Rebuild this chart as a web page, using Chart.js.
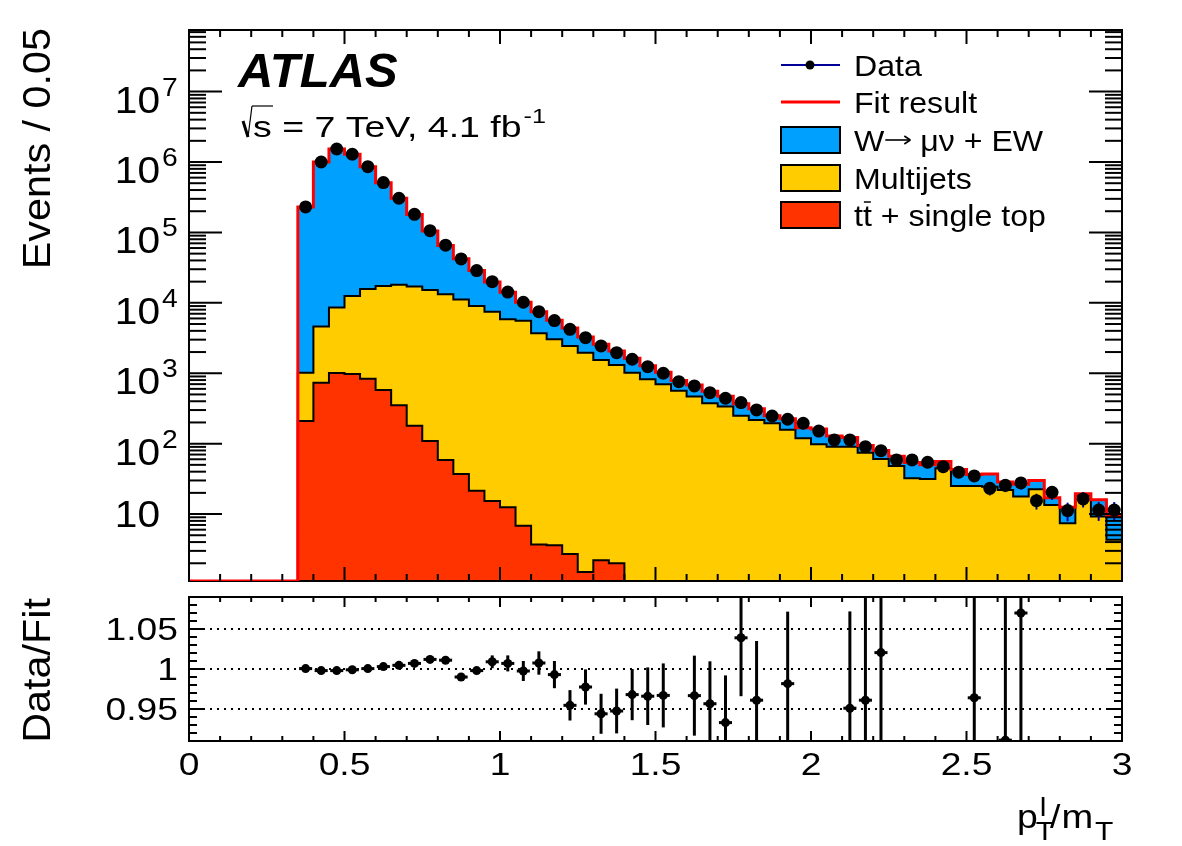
<!DOCTYPE html>
<html>
<head>
<meta charset="utf-8">
<title>pT/mT template fit</title>
<script src="https://cdn.jsdelivr.net/npm/chart.js@4.4.1/dist/chart.umd.min.js"></script>
<style>
  html, body { margin: 0; padding: 0; background: #fff; }
  #wrap { position: relative; width: 1182px; height: 846px; }
  #wrap canvas { position: absolute; left: 0; top: 0; }
</style>
</head>
<body>
<div id="wrap">
  <canvas id="mainChart" width="1182" height="846"></canvas>
  <canvas id="ratioChart" width="1182" height="846"></canvas>
</div>
<script>
// p_T^l / m_T, 60 bins of 0.05 from 0 to 3 (bins 0-6 are empty)
const binWidth = 0.05;
const nBins = 60;

// stack components, events per bin
const wMuNu = [0, 0, 0, 0, 0, 0, 0,
  229000, 995000, 1521000, 1277500, 844000, 490600, 287000, 163000, 89800, 51800,
  31200, 19800, 12300, 8250, 4620, 3740, 2600, 1960, 1310, 1035,
  757, 610, 458, 332, 224, 217, 179, 137, 119, 96,
  55, 69, 49, 64, 37.5, 31.5, 19.8, 19.5, 17.8, 21.8,
  18.4, 11.3, 18, 11.5, 12.5, 6.5, 8.8, 7.4, 3.5, 5.1,
  1.3, 6.8, 5.2];
const multijets = [0, 0, 0, 0, 0, 0, 0,
  810, 3860, 7540, 11500, 14860, 16820, 17650, 16820, 15090, 13140,
  11160, 8980, 7485, 5840, 5570, 3700, 3036, 2437, 1958, 1543,
  1311, 1020, 822, 698, 566, 466, 375, 336, 250, 217,
  195, 157, 119, 98, 90.5, 90.5, 74.5, 60.5, 48.2, 32.2,
  31.6, 44.7, 25, 25, 24.5, 22, 17.7, 22.6, 13.5, 7.4,
  18.2, 9.2, 4.3];
const topQuarks = [0, 0, 0, 0, 0, 0, 0,
  210, 735, 1010, 977, 838, 579, 351, 180, 109, 58.7,
  37, 21.5, 15.3, 12.5, 6.8, 3.7, 3.6, 2.7, 1.5, 2.2,
  2.0, 0, 0, 0, 0, 0, 0, 0, 0, 0,
  0, 0, 0, 0, 0, 0, 0, 0, 0, 0,
  0, 0, 0, 0, 0, 0, 0, 0, 0, 0,
  0, 0, 0];

const data = [null, null, null, null, null, null, null,
  230000, 1000000, 1530000, 1290000, 860000, 510000, 306000, 181000, 106000, 66000,
  42000, 28700, 20000, 14200, 10200, 7500, 5600, 4200, 3200, 2440,
  1960, 1580, 1240, 1000, 760, 660, 530, 441, 383, 301,
  247, 222, 195, 151, 113, 113, 90.6, 79.6, 58.7, 58.7,
  54.4, 47.1, 39.3, 34.8, 23.2, 25.6, 27.7, 15.5, 20.4, 11.2,
  16.4, 11.4, 11.4];
const dataErr = [0, 0, 0, 0, 0, 0, 0,
  0, 0, 0, 0, 0, 0, 0, 0, 0, 0,
  0, 0, 0, 0, 0, 0, 0, 0, 0, 0,
  0, 0, 0, 0, 0, 0, 0, 0, 0, 0,
  0, 14.9, 14, 12.3, 10.6, 10.6, 9.5, 8.9, 7.7, 7.7,
  7.4, 6.9, 6.3, 5.9, 4.8, 5.1, 5.3, 3.9, 4.5, 3.3,
  4.0, 3.4, 3.4];

// Data/Fit, null where no point is shown
const ratio = [null, null, null, null, null, null, null,
  1.0005, 0.998, 0.998, 0.999, 1.0005, 1.003, 1.0046, 1.007, 1.012, 1.011,
  0.990, 0.998, 1.009, 1.007, 0.9975, 1.0075, 0.993, 0.9546, 0.9775, 0.944,
  0.9475, 0.968, 0.966, 0.967, null, 0.9667, 0.9566, 0.933, 1.039, 0.961,
  null, 0.9817, null, null, null, 0.951, 0.961, 1.0205, null, null,
  null, null, null, 0.964, null, 0.911, 1.07, null, null, null,
  null, null, null];
const ratioErr = [0, 0, 0, 0, 0, 0, 0,
  0.0015, 0.0015, 0.0015, 0.0015, 0.0015, 0.0015, 0.0015, 0.002, 0.002, 0.002,
  0.003, 0.004, 0.008, 0.010, 0.0125, 0.0146, 0.017, 0.019, 0.022, 0.025,
  0.028, 0.032, 0.036, 0.040, 0, 0.050, 0.053, 0.059, 0.073, 0.074,
  0, 0.090, 0, 0, 0, 0.121, 0.135, 0.145, 0, 0,
  0, 0, 0, 0.20, 0, 0.25, 0.30, 0, 0, 0,
  0, 0, 0];

const mainTickLabels = [10, 1e2, 1e3, 1e4, 1e5, 1e6, 1e7];
const ratioTickLabels = ['0.95', '1', '1.05'];
const xTickLabels = ['0', '0.5', '1', '1.5', '2', '2.5', '3'];

const yMin = 1.12, yMax = 7.5e7;
const rMin = 0.91, rMax = 1.09;

const colW = '#00a0ff';
const colMJ = '#ffcc00';
const colTop = '#ff3300';
const colFit = '#ff0000';
const colDataLine = '#000099';
const FONT = '"Liberation Sans", Arial, Helvetica, sans-serif';

// cumulative stack tops
const stackMJ = multijets.map((v, i) => v + topQuarks[i]);
const stackAll = wMuNu.map((v, i) => v + stackMJ[i]);

// histogram outline: one point at each bin's left edge, plus the last right edge
function stepPoints(vals) {
  const pts = vals.map((v, i) => ({ x: i * binWidth, y: v > 0 ? v : yMin }));
  pts.push({ x: nBins * binWidth, y: pts[pts.length - 1].y });
  return pts;
}

function centrePoints(vals) {
  const pts = [];
  vals.forEach((v, i) => { if (v != null) pts.push({ x: (i + 0.5) * binWidth, y: v }); });
  return pts;
}

function drawText(ctx, str, x, y, opt) {
  const sx = opt.sx || 1;
  ctx.save();
  ctx.font = (opt.font || '') + ' ' + opt.size + 'px ' + FONT;
  ctx.fillStyle = '#000';
  ctx.textAlign = 'left';
  ctx.textBaseline = 'alphabetic';
  const w = ctx.measureText(str).width * sx;
  let x0 = x;
  if (opt.align === 'right') x0 -= w;
  else if (opt.align === 'center') x0 -= w / 2;
  ctx.translate(x0, y);
  ctx.scale(sx, 1);
  ctx.fillText(str, 0, 0);
  ctx.restore();
  return w;
}

// vertical axis title, read bottom to top, ending at yTop
function drawVertical(ctx, str, xBase, yTop, size, sx) {
  ctx.save();
  ctx.font = size + 'px ' + FONT;
  ctx.fillStyle = '#000';
  ctx.textBaseline = 'alphabetic';
  const w = ctx.measureText(str).width * sx;
  ctx.translate(xBase, yTop + w);
  ctx.rotate(-Math.PI / 2);
  ctx.scale(sx, 1);
  ctx.fillText(str, 0, 0);
  ctx.restore();
}

function line(ctx, x1, y1, x2, y2) {
  ctx.beginPath();
  ctx.moveTo(x1, y1);
  ctx.lineTo(x2, y2);
  ctx.stroke();
}

function drawXTicks(ctx, area, xs, major, minor) {
  for (let k = 0; k <= 30; k++) {
    const px = xs.getPixelForValue(k / 10);
    const len = k % 5 === 0 ? major : minor;
    line(ctx, px, area.bottom, px, area.bottom - len);
    line(ctx, px, area.top, px, area.top + len);
  }
}

// ---------- upper panel ----------
const mainDecor = {
  id: 'mainDecor',
  beforeDatasetDraw(chart, args) {
    const { ctx, chartArea: a, scales: { x, y } } = chart;
    if (args.index === 1) {
      // frame goes under the fit line, like the original
      ctx.save();
      ctx.strokeStyle = '#000';
      ctx.lineWidth = 2;
      ctx.strokeRect(a.left, a.top, a.right - a.left, a.bottom - a.top);
      ctx.restore();
    }
    if (args.index !== 0) return;
    ctx.save();
    ctx.beginPath();
    ctx.rect(a.left, a.top, a.right - a.left, a.bottom - a.top);
    ctx.clip();
    ctx.strokeStyle = colDataLine;
    ctx.lineWidth = 2;
    data.forEach((v, i) => {
      if (v == null || !dataErr[i]) return;
      const px = x.getPixelForValue((i + 0.5) * binWidth);
      line(ctx, px, y.getPixelForValue(v + dataErr[i]), px, y.getPixelForValue(v - dataErr[i]));
    });
    ctx.restore();
  },
  afterDraw(chart) {
    const { ctx, chartArea: a, scales: { x, y } } = chart;
    ctx.save();
    ctx.strokeStyle = '#000';
    ctx.lineWidth = 2;
    drawXTicks(ctx, a, x, 14, 7);
    for (let e = 0; e <= 7; e++) {
      for (let m = 1; m <= 9; m++) {
        const v = m * Math.pow(10, e);
        if (v < yMin || v > yMax) continue;
        const py = y.getPixelForValue(v);
        const len = m === 1 ? 33 : 17;
        line(ctx, a.left, py, a.left + len, py);
        line(ctx, a.right, py, a.right - len, py);
      }
    }
    line(ctx, a.left, a.top, a.right, a.top);
    line(ctx, a.right, a.top, a.right, a.bottom);

    // y tick labels 10^n
    mainTickLabels.forEach(v => {
      const py = y.getPixelForValue(v);
      const ex = Math.round(Math.log10(v));
      if (ex === 1) {
        drawText(ctx, '10', 160, py + 13, { size: 36, sx: 1.13, align: 'right' });
      } else {
        drawText(ctx, '10', 160, py + 21, { size: 36, sx: 1.13, align: 'right' });
        drawText(ctx, String(ex), 162, py + 4, { size: 25, sx: 1.13 });
      }
    });

    drawVertical(ctx, 'Events / 0.05', 50, 28, 39, 1.06);

    // ATLAS label
    drawText(ctx, 'ATLAS', 238, 87, { size: 49, font: 'italic bold' });
    ctx.lineWidth = 3;
    line(ctx, 243, 121, 248, 137);
    ctx.lineWidth = 1.2;
    line(ctx, 248, 137, 252, 106);
    line(ctx, 252, 106, 273, 106);
    const w1 = drawText(ctx, 's = 7 TeV, 4.1 fb', 253, 137, { size: 30, sx: 1.25 });
    drawText(ctx, '-1', 255 + w1, 123, { size: 21, sx: 1.2 });

    // legend
    const lx1 = 781, lx2 = 840, tx = 854;
    const rows = [65, 102, 140, 178, 215];
    ctx.strokeStyle = colDataLine;
    ctx.lineWidth = 2;
    line(ctx, lx1, rows[0], lx2, rows[0]);
    ctx.fillStyle = '#000';
    ctx.beginPath();
    ctx.arc(810, rows[0], 4.5, 0, Math.PI * 2);
    ctx.fill();
    ctx.strokeStyle = colFit;
    ctx.lineWidth = 3;
    line(ctx, lx1, rows[1], lx2, rows[1]);
    [[colW, rows[2]], [colMJ, rows[3]], [colTop, rows[4]]].forEach(([c, ry]) => {
      ctx.fillStyle = c;
      ctx.fillRect(lx1, ry - 13, lx2 - lx1, 26);
      ctx.strokeStyle = '#000';
      ctx.lineWidth = 2;
      ctx.strokeRect(lx1, ry - 13, lx2 - lx1, 26);
    });
    const lo = { size: 30, sx: 1.07 };
    drawText(ctx, 'Data', tx, rows[0] + 11, lo);
    drawText(ctx, 'Fit result', tx, rows[1] + 11, lo);

    // W -> mu nu + EW, with a long drawn arrow
    const ww = drawText(ctx, 'W', tx, rows[2] + 11, lo);
    const ax1 = tx + ww + 1, ax2 = tx + ww + 26;
    ctx.strokeStyle = '#000';
    ctx.lineWidth = 1.6;
    line(ctx, ax1, rows[2], ax2, rows[2]);
    line(ctx, ax2 - 6, rows[2] - 4, ax2, rows[2]);
    line(ctx, ax2 - 6, rows[2] + 4, ax2, rows[2]);
    drawText(ctx, '\u03bc\u03bd + EW', ax2 + 10, rows[2] + 11, lo);

    drawText(ctx, 'Multijets', tx, rows[3] + 11, lo);
    const tw = drawText(ctx, 't', tx, rows[4] + 11, lo);
    const tw2 = drawText(ctx, 't', tx + tw, rows[4] + 11, lo);
    ctx.lineWidth = 1.5;
    line(ctx, tx + tw + 1, rows[4] - 13, tx + tw + tw2 - 1, rows[4] - 13);
    drawText(ctx, ' + single top', tx + tw + tw2, rows[4] + 11, lo);
    ctx.restore();
  }
};

const histStyle = { stepped: true, pointRadius: 0, borderWidth: 2, borderColor: '#000', fill: 'start' };

new Chart(document.getElementById('mainChart'), {
  type: 'line',
  data: {
    datasets: [
      { label: 'Data', data: centrePoints(data), showLine: false, pointRadius: 6.5,
        pointBackgroundColor: '#000', pointBorderWidth: 0 },
      { label: 'Fit result', data: stepPoints(stackAll), stepped: true, pointRadius: 0,
        borderColor: colFit, borderWidth: 3, fill: false },
      { ...histStyle, label: 't tbar + single top', data: stepPoints(topQuarks), backgroundColor: colTop },
      { ...histStyle, label: 'Multijets', data: stepPoints(stackMJ), backgroundColor: colMJ },
      { ...histStyle, label: 'W -> mu nu + EW', data: stepPoints(stackAll), backgroundColor: colW,
        borderColor: 'rgba(0,0,0,0)', borderWidth: 0 }
    ]
  },
  options: {
    responsive: false,
    animation: false,
    events: [],
    layout: { padding: { left: 189, right: 60, top: 30, bottom: 265 } },
    scales: {
      x: { type: 'linear', min: 0, max: 3, display: false },
      y: { type: 'logarithmic', min: yMin, max: yMax, display: false }
    },
    plugins: { legend: { display: false }, tooltip: { enabled: false } }
  },
  plugins: [mainDecor]
});

// ---------- ratio panel ----------
const ratioDecor = {
  id: 'ratioDecor',
  beforeDatasetsDraw(chart) {
    const { ctx, chartArea: a, scales: { x, y } } = chart;
    ctx.save();
    ctx.strokeStyle = '#000';
    ctx.lineWidth = 2;
    ctx.setLineDash([2, 5]);
    [0.95, 1, 1.05].forEach(v => {
      const py = y.getPixelForValue(v);
      line(ctx, a.left, py, a.right, py);
    });
    ctx.setLineDash([]);
    ctx.beginPath();
    ctx.rect(a.left, a.top, a.right - a.left, a.bottom - a.top);
    ctx.clip();
    ctx.lineWidth = 3;
    ratio.forEach((r, i) => {
      if (r == null) return;
      const c = (i + 0.5) * binWidth;
      const px = x.getPixelForValue(c);
      const py = y.getPixelForValue(r);
      line(ctx, px, y.getPixelForValue(r + ratioErr[i]), px, y.getPixelForValue(r - ratioErr[i]));
      line(ctx, x.getPixelForValue(c - 0.021), py, x.getPixelForValue(c + 0.021), py);
    });
    ctx.restore();
  },
  afterDraw(chart) {
    const { ctx, chartArea: a, scales: { x, y } } = chart;
    ctx.save();
    ctx.strokeStyle = '#000';
    ctx.lineWidth = 2;
    drawXTicks(ctx, a, x, 10, 5);
    for (let k = 91; k <= 109; k++) {
      const py = y.getPixelForValue(k / 100);
      const len = k % 5 === 0 ? 16 : 8;
      line(ctx, a.left, py, a.left + len, py);
      line(ctx, a.right, py, a.right - len, py);
    }
    ctx.strokeRect(a.left, a.top, a.right - a.left, a.bottom - a.top);

    ratioTickLabels.forEach(s => {
      drawText(ctx, s, 178, y.getPixelForValue(parseFloat(s)) + 11, { size: 31, sx: 1.2, align: 'right' });
    });
    xTickLabels.forEach(s => {
      drawText(ctx, s, x.getPixelForValue(parseFloat(s)), 775, { size: 31, sx: 1.2, align: 'center' });
    });

    drawVertical(ctx, 'Data/Fit', 50, 598, 39, 1.06);

    // x title p_T^l / m_T
    const pw = drawText(ctx, 'p', 1017, 828, { size: 34, sx: 1.1 });
    drawText(ctx, 'T', 1017 + pw - 2, 840, { size: 25, sx: 1.2 });
    drawText(ctx, 'l', 1017 + pw + 2, 816, { size: 25, sx: 1.2 });
    const sw = drawText(ctx, '/', 1050, 828, { size: 34, sx: 1.1 });
    const mw = drawText(ctx, 'm', 1050 + sw + 1, 828, { size: 34, sx: 1.12 });
    drawText(ctx, 'T', 1050 + sw + mw + 3, 840, { size: 25, sx: 1.2 });
    ctx.restore();
  }
};

new Chart(document.getElementById('ratioChart'), {
  type: 'line',
  data: {
    datasets: [
      { label: 'Data/Fit', data: centrePoints(ratio), showLine: false, pointRadius: 4.5,
        pointBackgroundColor: '#000', pointBorderWidth: 0 }
    ]
  },
  options: {
    responsive: false,
    animation: false,
    events: [],
    layout: { padding: { left: 189, right: 60, top: 597, bottom: 105 } },
    scales: {
      x: { type: 'linear', min: 0, max: 3, display: false },
      y: { type: 'linear', min: rMin, max: rMax, display: false }
    },
    plugins: { legend: { display: false }, tooltip: { enabled: false } }
  },
  plugins: [ratioDecor]
});
</script>
</body>
</html>
